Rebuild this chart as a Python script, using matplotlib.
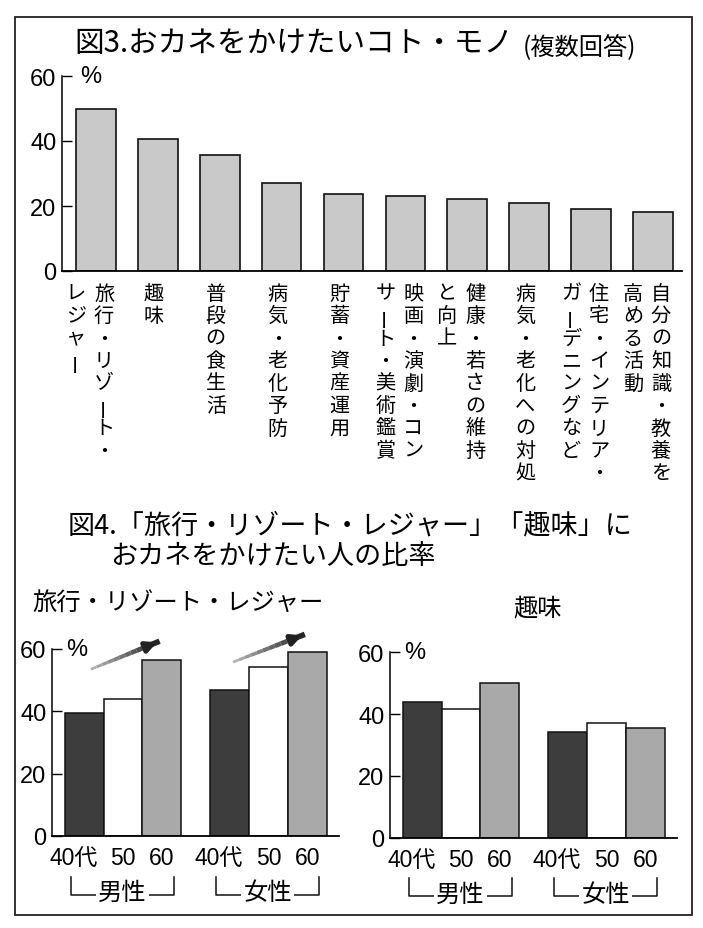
import matplotlib
matplotlib.use('Agg')
import matplotlib.pyplot as plt
from matplotlib import transforms
from matplotlib.patches import Rectangle
from matplotlib.collections import LineCollection

plt.rcParams['font.family'] = ['Noto Sans CJK JP', 'DejaVu Sans']
NUM_FONT = ['Liberation Sans Narrow', 'Liberation Sans', 'DejaVu Sans']

# 図3 data
items = [
    ['旅行・リゾート・', 'レジャー'],
    ['趣味'],
    ['普段の食生活'],
    ['病気・老化予防'],
    ['貯蓄・資産運用'],
    ['映画・演劇・コン', 'サート・美術鑑賞'],
    ['健康・若さの維持', 'と向上'],
    ['病気・老化への対処'],
    ['住宅・インテリア・', 'ガーデニングなど'],
    ['自分の知識・教養を', '高める活動'],
]
item_pct = [50.0, 40.6, 35.7, 27.0, 23.8, 23.1, 22.2, 20.9, 19.0, 18.3]

# 図4 data
ages = ['40代', '50', '60']
genders = ['男性', '女性']
travel_men = [39.6, 43.9, 56.4]
travel_women = [46.9, 54.2, 58.9]
hobby_men = [43.9, 41.6, 50.1]
hobby_women = [34.3, 37.2, 35.6]

W, H = 703, 929
fig = plt.figure(figsize=(W / 100, H / 100), dpi=100)
fig.patch.set_facecolor('white')


def add_ax(l, t, r, b):
    return fig.add_axes([l / W, 1 - b / H, (r - l) / W, (b - t) / H])


def fy(y):
    return 1 - y / H


def fx(x):
    return x / W


# outer frame
fig.add_artist(Rectangle((fx(15), fy(916)), fx(692) - fx(15), fy(18) - fy(916),
                         transform=fig.transFigure, fill=False, lw=1.3, ec='#222'))


def style_axis(ax):
    ax.set_ylim(0, 60)
    ax.set_yticks([0, 20, 40, 60])
    ax.spines['top'].set_visible(False)
    ax.spines['right'].set_visible(False)
    ax.spines['left'].set_linewidth(1.1)
    ax.spines['bottom'].set_linewidth(1.3)
    ax.tick_params(axis='y', direction='in', length=7, width=1.0, pad=4)
    ax.tick_params(axis='x', length=0)
    for lab in ax.get_yticklabels():
        lab.set_fontfamily(NUM_FONT)
        lab.set_fontsize(17)
    ax.patch.set_alpha(0)


# ---- 図3 ----
fig.text(fx(74), fy(44), '図3.おカネをかけたいコト・モノ', fontsize=21.3, va='center', ha='left')
fig.text(fx(523), fy(47), '(複数回答)', fontsize=17.5, va='center', ha='left')

ax1 = add_ax(62, 77, 682, 272)
x1 = list(range(len(item_pct)))
ax1.bar(x1, item_pct, width=0.64, color='#c9c9c9', edgecolor='#111', linewidth=1.2)
ax1.set_xlim(-0.55, 9.47)
ax1.set_xticks([])
style_axis(ax1)
ax1.text(0.03, 60, '%', transform=transforms.blended_transform_factory(ax1.transAxes, ax1.transData),
         fontsize=17, va='center', ha='left', fontfamily=NUM_FONT)

# vertical (tategaki) labels
tr = transforms.blended_transform_factory(ax1.transData, fig.transFigure)
step = 22.5
for i, cols in enumerate(items):
    if len(cols) == 1:
        offs = [-4]
    else:
        offs = [8, -20]
    for col, off in zip(cols, offs):
        t = transforms.offset_copy(tr, fig=fig, x=off * 0.72, y=0, units='points')
        for k, ch in enumerate(col):
            y = 294 + k * step
            rot = 90 if ch == 'ー' else 0
            ax1.text(i, fy(y), ch, transform=t, fontsize=14.5, ha='center', va='center',
                     rotation=rot, clip_on=False)

# ---- 図4 ----
fig.text(fx(68), fy(526), '図4.「旅行・リゾート・レジャー」「趣味」に', fontsize=19.5, va='center', ha='left')
fig.text(fx(110), fy(556), 'おカネをかけたい人の比率', fontsize=19.5, va='center', ha='left')

fig.text(fx(178), fy(604), '旅行・リゾート・レジャー', fontsize=17.5, va='center', ha='center')
fig.text(fx(538), fy(608), '趣味', fontsize=17.5, va='center', ha='center')

gap = 3.75
pos_m = [0, 1, 2]
pos_w = [p + gap for p in pos_m]
bar_colors = ['#3d3d3d', 'white', '#a9a9a9']


def panel(ax, men, women, show_arrows=False):
    ax.bar(pos_m, men, width=1.0, color=bar_colors, edgecolor='#111', linewidth=1.1)
    ax.bar(pos_w, women, width=1.0, color=bar_colors, edgecolor='#111', linewidth=1.1)
    ax.set_xlim(-0.83, 6.56)
    ax.set_xticks(pos_m + pos_w)
    ax.set_xticklabels(ages * 2)
    style_axis(ax)
    ax.tick_params(axis='x', pad=7)
    shift = transforms.ScaledTranslation(-11 / 100, 0, fig.dpi_scale_trans)
    for lab in ax.get_xticklabels():
        lab.set_fontsize(16.5)
        lab.set_fontfamily(NUM_FONT + ['Noto Sans CJK JP'])
        if lab.get_text() == ages[0]:
            lab.set_transform(lab.get_transform() + shift)
    ax.text(0.05, 60, '%', transform=transforms.blended_transform_factory(ax.transAxes, ax.transData),
            fontsize=17, va='center', ha='left', fontfamily=NUM_FONT)
    # gender brackets
    for g, ps in zip(genders, [pos_m, pos_w]):
        x0, x3 = ps[0] - 0.35, ps[2] + 0.3
        yt, yb = -13.0, -18.8
        ax.plot([x0, x0, x3, x3], [yt, yb, yb, yt], color='#111', lw=1.1, clip_on=False)
        ax.text((ps[0] + ps[2]) / 2 - 0.02, -18.0, g, fontsize=17.5, ha='center', va='center',
                clip_on=False, bbox=dict(fc='white', ec='none', pad=1.5))
    if show_arrows:
        for (xs, ys, xe, ye) in [(0.17, 53.5, 1.94, 62.5), (3.83, 55.8, 5.68, 64.7)]:
            n = 12
            segs, cols = [], []
            for k in range(n):
                a, b = k / n, (k + 1) / n
                segs.append([(xs + (xe - xs) * a, ys + (ye - ys) * a),
                             (xs + (xe - xs) * b, ys + (ye - ys) * b)])
                g = 0.75 - 0.6 * b
                cols.append((g, g, g))
            lc = LineCollection(segs, colors=cols, linewidths=[2.0 + 2.2 * (k / n) for k in range(n)],
                                clip_on=False)
            ax.add_collection(lc)
            ax.annotate('', xy=(xe, ye), xytext=(xs + (xe - xs) * 0.85, ys + (ye - ys) * 0.85),
                        arrowprops=dict(arrowstyle='-|>', color='#222', lw=3.5,
                                        mutation_scale=15), annotation_clip=False)


ax2 = add_ax(52, 650, 339, 837)
panel(ax2, travel_men, travel_women, show_arrows=True)

ax3 = add_ax(390, 653, 677, 839)
panel(ax3, hobby_men, hobby_women)

fig.savefig('out.png', dpi=100, facecolor='white')
